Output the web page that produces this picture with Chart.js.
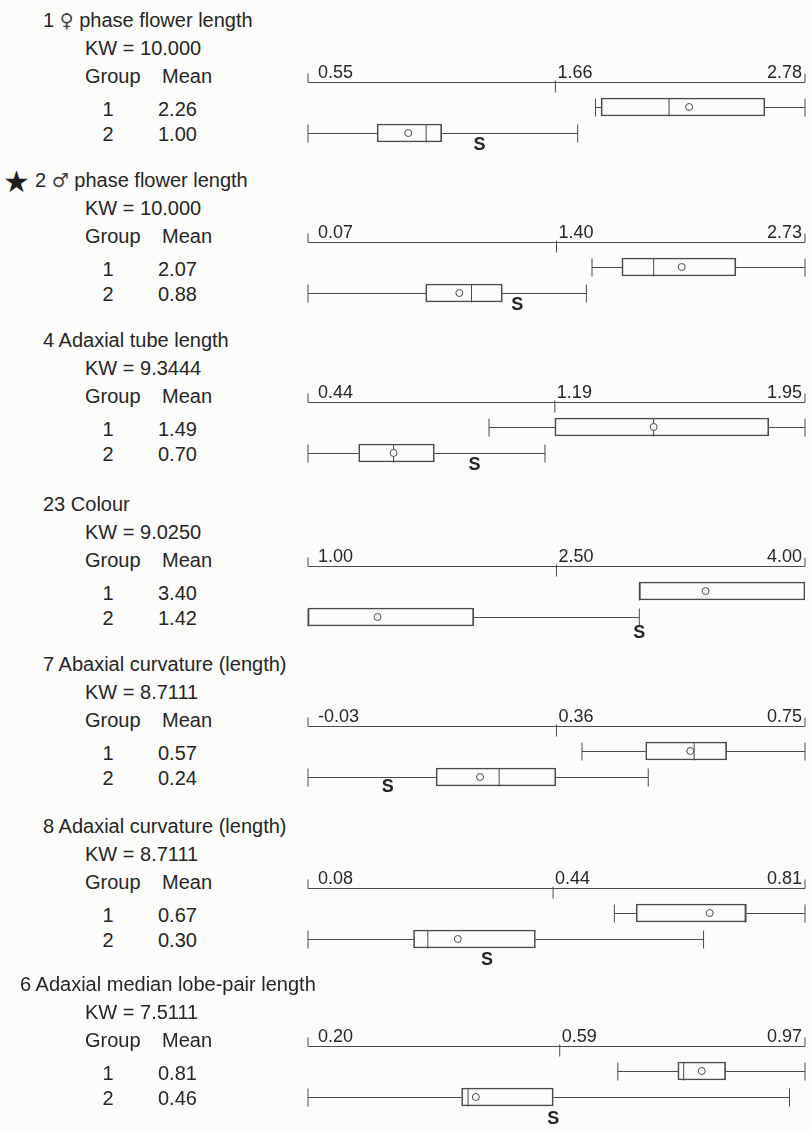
<!DOCTYPE html>
<html>
<head>
<meta charset="utf-8">
<script src="https://cdn.jsdelivr.net/npm/chart.js@4.4.0/dist/chart.umd.min.js"></script>
<style>
    body { margin: 0; background: #fcfcfa; }
    #page { position: relative; width: 810px; height: 1131px; overflow: hidden;
            font-family: "Liberation Sans", Arial, sans-serif; color: #262626; }
    .t { position: absolute; white-space: nowrap; font-size: 20px; line-height: 1; transform: translateY(-50%); }
    .c { transform: translate(-50%, -50%); }
    .sym { font-family: "DejaVu Sans ExtraLight", "DejaVu Sans", sans-serif; font-size: 19px; color: #444; }
    canvas { position: absolute; }
</style>
</head>
<body>
<div id="page"></div>
<script>
// ---- data ----
const panelNumbers = ['1', '2', '4', '23', '7', '8', '6'];
const panelSymbols = ['\u2640', '\u2642', '', '', '', '', ''];
const panelTitles = [
    'phase flower length',
    'phase flower length',
    'Adaxial tube length',
    'Colour',
    'Abaxial curvature (length)',
    'Adaxial curvature (length)',
    'Adaxial median lobe-pair length'
];
const kwValues = ['10.000', '10.000', '9.3444', '9.0250', '8.7111', '8.7111', '7.5111'];
const groups = ['1', '2'];
const groupMeans = [[2.26, 1.00], [2.07, 0.88], [1.49, 0.70], [3.40, 1.42], [0.57, 0.24], [0.67, 0.30], [0.81, 0.46]];
const tickLabels = [
    ['0.55', '1.66', '2.78'], ['0.07', '1.40', '2.73'], ['0.44', '1.19', '1.95'], ['1.00', '2.50', '4.00'],
    ['-0.03', '0.36', '0.75'], ['0.08', '0.44', '0.81'], ['0.20', '0.59', '0.97']
];
const whiskerLow  = [[1.84, 0.55], [1.59, 0.07], [0.99, 0.44], [3.00, 1.00], [0.40, -0.03], [0.53, 0.08], [0.68, 0.20]];
const quartile1   = [[1.865, 0.86], [1.75, 0.70], [1.19, 0.594], [3.00, 1.00], [0.50, 0.171], [0.562, 0.235], [0.773, 0.438]];
const medians     = [[2.17, 1.08], [1.92, 0.945], [1.49, 0.70], [3.00, 1.00], [0.576, 0.27], [0.722, 0.256], [0.782, 0.448]];
const quartile3   = [[2.60, 1.15], [2.36, 1.11], [1.84, 0.824], [4.00, 2.00], [0.627, 0.359], [0.724, 0.414], [0.847, 0.58]];
const whiskerHigh = [[2.78, 1.76], [2.73, 1.56], [1.95, 1.16], [4.00, 3.00], [0.75, 0.504], [0.81, 0.661], [0.97, 0.946]];
const sigMarkX = [1.32, 1.19, 0.946, 3.00, 0.095, 0.343, 0.58];
const starredPanel = 1;

// ---- layout ----
const panelTop = [20, 180, 340, 504, 664, 826, 984];
const titleLeft = [43, 35, 43, 43, 43, 43, 20];
const sigDrop = [12, 12, 12, 16, 10, 21, 22];
const LINE = '#4a4a4a';
const INK = '#262626';

const page = document.getElementById('page');

function addText(txt, x, y, cls, extra) {
    const d = document.createElement('div');
    d.className = 't ' + (cls || '');
    d.textContent = txt;
    d.style.left = x + 'px';
    d.style.top = y + 'px';
    if (extra) Object.assign(d.style, extra);
    page.appendChild(d);
    return d;
}

const boxParts = {
    id: 'boxParts',
    beforeDatasetsDraw(chart) {
        const i = chart.options.panelIndex;
        const { ctx, scales: { x, y } } = chart;
        ctx.save();
        ctx.strokeStyle = LINE;
        ctx.lineWidth = 1;
        groups.forEach((g, j) => {
            const cy = Math.round(y.getPixelForValue(j)) + 0.5;
            const h = 9;
            const wl = x.getPixelForValue(whiskerLow[i][j]);
            const q1 = x.getPixelForValue(quartile1[i][j]);
            const q3 = x.getPixelForValue(quartile3[i][j]);
            const wh = x.getPixelForValue(whiskerHigh[i][j]);
            const md = x.getPixelForValue(medians[i][j]);
            ctx.beginPath();
            if (wl < q1) {
                ctx.moveTo(wl, cy); ctx.lineTo(q1, cy);
                ctx.moveTo(wl, cy - h); ctx.lineTo(wl, cy + h);
            }
            if (wh > q3) {
                ctx.moveTo(q3, cy); ctx.lineTo(wh, cy);
                ctx.moveTo(wh, cy - h); ctx.lineTo(wh, cy + h);
            }
            ctx.moveTo(md, cy - h); ctx.lineTo(md, cy + h);
            ctx.stroke();
        });
        ctx.restore();
    },
    afterDraw(chart) {
        const i = chart.options.panelIndex;
        const { ctx, chartArea, scales: { x, y } } = chart;
        const ticks = tickLabels[i].map(Number);
        const y0 = Math.round(chartArea.top - 12) + 0.5;
        const xa = x.getPixelForValue(ticks[0]);
        const xm = x.getPixelForValue(ticks[1]);
        const xb = x.getPixelForValue(ticks[2]);
        ctx.save();
        ctx.strokeStyle = LINE;
        ctx.lineWidth = 1;
        ctx.beginPath();
        ctx.moveTo(xa, y0); ctx.lineTo(xb, y0);
        ctx.moveTo(xa, y0 - 9); ctx.lineTo(xa, y0);
        ctx.moveTo(xb, y0 - 9); ctx.lineTo(xb, y0);
        ctx.moveTo(xm, y0 - 2); ctx.lineTo(xm, y0 + 10);
        ctx.stroke();

        ctx.fillStyle = INK;
        ctx.font = '18px "Liberation Sans", Arial, sans-serif';
        ctx.textBaseline = 'alphabetic';
        ctx.textAlign = 'left';
        ctx.fillText(tickLabels[i][0], xa + 10, y0 - 5);
        ctx.fillText(tickLabels[i][1], xm + 2, y0 - 5);
        ctx.textAlign = 'right';
        ctx.fillText(tickLabels[i][2], xb - 3, y0 - 5);

        // significance mark under group 2
        ctx.font = 'bold 18px "Liberation Sans", Arial, sans-serif';
        ctx.textAlign = 'center';
        ctx.textBaseline = 'middle';
        ctx.fillText('S', x.getPixelForValue(sigMarkX[i]), y.getPixelForValue(1) + sigDrop[i]);
        ctx.restore();
    }
};

panelTitles.forEach((title, i) => {
    const T = panelTop[i];
    const head = addText('', titleLeft[i], T);
    head.append(panelNumbers[i] + ' ');
    if (panelSymbols[i]) {
        const s = document.createElement('span');
        s.className = 'sym';
        s.textContent = panelSymbols[i];
        head.append(s, ' ');
    }
    head.append(title);
    addText('KW = ' + kwValues[i], 85, T + 28);
    addText('Group', 85, T + 56);
    addText('Mean', 162, T + 56);
    groups.forEach((g, j) => {
        const ry = T + 89 + j * 25;
        addText(g, 108, ry, 'c');
        addText(groupMeans[i][j].toFixed(2), 158, ry);
    });
    if (i === starredPanel) {
        addText('\u2605', 3, T + 2, '', { fontSize: '30px', fontFamily: '"DejaVu Sans", sans-serif', color: '#1e1e1e' });
    }

    const cv = document.createElement('canvas');
    cv.width = 520;
    cv.height = 112;
    cv.style.left = '290px';
    cv.style.top = (T + 38) + 'px';
    page.appendChild(cv);

    const ticks = tickLabels[i].map(Number);
    new Chart(cv, {
        type: 'bar',
        data: {
            labels: groups,
            datasets: [
                {
                    data: groups.map((g, j) => [quartile1[i][j], quartile3[i][j]]),
                    backgroundColor: 'rgba(255,255,255,0)',
                    borderColor: LINE,
                    borderWidth: 1,
                    borderSkipped: false,
                    barThickness: 18,
                    order: 2
                },
                {
                    type: 'line',
                    indexAxis: 'y',
                    data: groups.map((g, j) => ({ x: groupMeans[i][j], y: g })),
                    showLine: false,
                    pointRadius: 3.5,
                    pointBackgroundColor: '#fcfcfa',
                    pointBorderColor: LINE,
                    pointBorderWidth: 1,
                    order: 1
                }
            ]
        },
        options: {
            panelIndex: i,
            indexAxis: 'y',
            responsive: false,
            animation: false,
            devicePixelRatio: 1,
            layout: { padding: { left: 18, right: 5, top: 36, bottom: 24 } },
            scales: {
                x: { type: 'linear', min: ticks[0], max: ticks[2], display: false },
                y: { display: false, offset: true }
            },
            plugins: { legend: { display: false }, tooltip: { enabled: false } }
        },
        plugins: [boxParts]
    });
});
</script>
</body>
</html>
